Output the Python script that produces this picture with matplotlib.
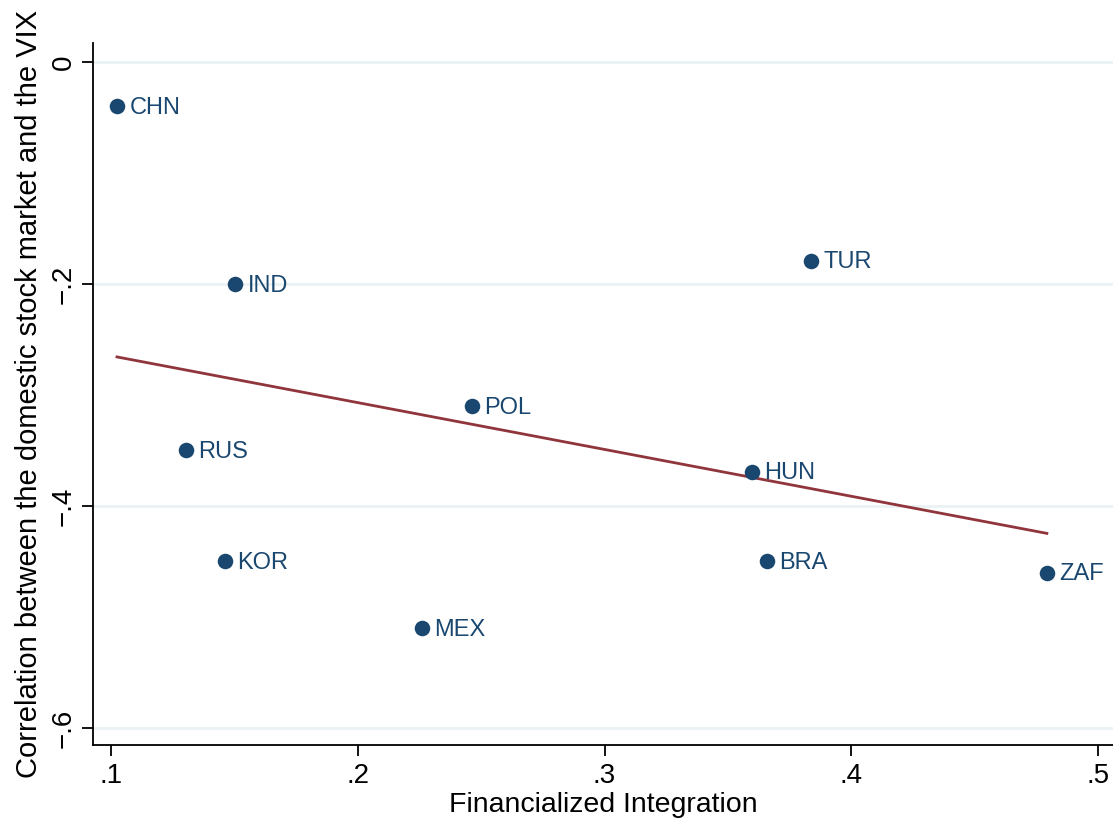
import matplotlib.pyplot as plt
import numpy as np

plt.rcParams['font.family'] = ['Liberation Sans', 'DejaVu Sans']

paises = ["CHN", "IND", "TUR", "POL", "RUS", "HUN", "KOR", "BRA", "ZAF", "MEX"]
integ = [0.1024, 0.1503, 0.3837, 0.2463, 0.1304, 0.3598, 0.1462, 0.3659, 0.4793, 0.226]
corr = [-0.040, -0.200, -0.179, -0.310, -0.350, -0.369, -0.450, -0.450, -0.460, -0.510]

navy = "#1a476f"
maroon = "#90353b"

fig = plt.figure(figsize=(11.13, 8.24), dpi=100)
ax = fig.add_axes([0.0836, 0.0959, 0.9164, 0.852])

# reta de ajuste
b, a = np.polyfit(integ, corr, 1)
xs = np.array([min(integ), max(integ)])
ax.plot(xs, a + b * xs, color=maroon, lw=2, zorder=2)

ax.scatter(integ, corr, s=125, color=navy, zorder=3, linewidths=0)
for p, x, y in zip(paises, integ, corr):
    ax.annotate(p, (x, y), xytext=(9, -1.2), textcoords="offset points",
                va="center", ha="left", fontsize=17, color=navy)

ax.set_xlim(0.0927, 0.5061)
ax.set_ylim(-0.6153, 0.0171)
ax.set_xticks([0.1, 0.2, 0.3, 0.4, 0.5])
ax.set_xticklabels([".1", ".2", ".3", ".4", ".5"])
ax.set_yticks([0, -0.2, -0.4, -0.6])
ax.set_yticklabels(["0", "\u2212.2", "\u2212.4", "\u2212.6"], rotation=90, va="center")
ax.tick_params(labelsize=20, length=8, width=1.3, color="black")
ax.tick_params(axis="x", pad=5)
ax.grid(axis="y", color="#eaf2f3", lw=2)
ax.set_axisbelow(True)
for s in ["top", "right"]:
    ax.spines[s].set_visible(False)
ax.spines["left"].set_linewidth(1.3)
ax.spines["bottom"].set_linewidth(1.3)

ax.set_xlabel("Financialized Integration", fontsize=20.5, labelpad=2)
ax.set_ylabel("Correlation between the domestic stock market and the VIX", fontsize=21, labelpad=6)

plt.savefig("out.png", dpi=100)
